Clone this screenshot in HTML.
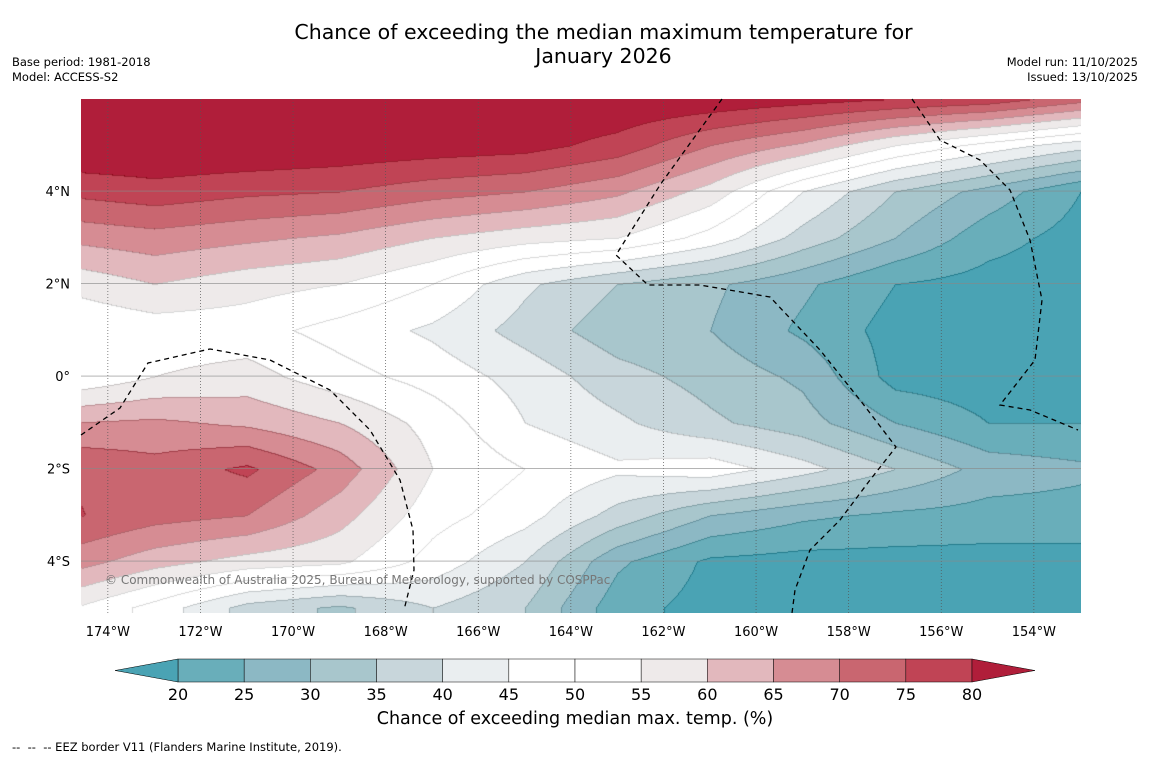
<!DOCTYPE html>
<html><head><meta charset="utf-8">
<style>
body{margin:0;background:#fff;font-family:"DejaVu Sans",sans-serif;}
#wrap{position:relative;width:1150px;height:758px;overflow:hidden;background:#fff}
.t{position:absolute;white-space:nowrap;color:#000}
</style></head><body>
<div id="wrap">
<div class="t" style="left:0;width:1207px;text-align:center;top:20px;font-size:20.5px;line-height:24px">Chance of exceeding the median maximum temperature for<br>January 2026</div>
<div class="t" style="left:12px;top:55px;font-size:11.5px;line-height:15px">Base period: 1981-2018<br>Model: ACCESS-S2</div>
<div class="t" style="right:12px;top:55px;font-size:11.5px;line-height:15px;text-align:right">Model run: 11/10/2025<br>Issued: 13/10/2025</div>
<canvas id="map" width="1000" height="514" style="position:absolute;left:81px;top:99px"></canvas>
<svg id="ov" width="1150" height="758" style="position:absolute;left:0;top:0"></svg>
<div class="t" style="left:105px;top:573px;font-size:12px;color:#777">© Commonwealth of Australia 2025, Bureau of Meteorology, supported by COSPPac</div>
<div class="t" style="left:0;width:1150px;text-align:center;top:709px;font-size:17.5px">Chance of exceeding median max. temp. (%)</div>
<div class="t" style="left:12px;top:740px;font-size:11.5px">-- &nbsp;-- &nbsp;-- EEZ border V11 (Flanders Marine Institute, 2019).</div>
</div>
<script>
const lons=[-175,-173,-171,-169,-167,-165,-163,-161,-159,-157,-155,-153];
const lats=[6,5,4,3,2,1,0,-1,-2,-3,-4,-5];
const grid=[
[85,85,85,85,85,85,85,84,82,80,78,72],
[85,85,85,84,83,82,78,70,64,55,48,42],
[76,78,76,75,72,70,66,58,45,35,28,20],
[66,68,66,64,60,57,55,48,38,30,22,18],
[56,60,57,55,50,41,35,31,26,20,18,17],
[50,52,52,48,44,38,32,30,24,18,17,17],
[50,55,57,52,48,43,37,33,29,18,17,18],
[65,66,64,60,53,45,41,36,32,25,20,20],
[75,72,76,68,55,50,46,48,42,35,28,26],
[76,72,70,62,52,47,38,30,26,24,23,23],
[68,62,58,56,48,40,26,19,18,18,18,18],
[56,48,38,34,40,35,22,18,18,18,18,18]];
const levels=[20,25,30,35,40,45,50,55,60,65,70,75,80];
const colors=["#4aa3b4","#69aeba","#8cb8c4","#a8c6cc","#c8d6db","#eaeef0","#ffffff","#ffffff","#eeeaea","#e2b8bd","#d68c93","#c96670","#c04455","#b01e3a"];
const xTicks=[-174,-172,-170,-168,-166,-164,-162,-160,-158,-156,-154];
const yTicks=[4,2,0,-2,-4];
const X0=81,Y0=99,W=1000,H=514,LON0=-174.58,LAT0=5.99,PX=46.3,PY=46.25;
const xs=lon=>X0+(lon-LON0)*PX, ys=lat=>Y0+(LAT0-lat)*PY;
function band(v){let i=0;while(i<levels.length&&v>=levels[i])i++;return i;}
function hex(c){return [parseInt(c.substr(1,2),16),parseInt(c.substr(3,2),16),parseInt(c.substr(5,2),16)];}
const rgb=colors.map(hex);
const cv=document.getElementById('map'),ctx=cv.getContext('2d'),img=ctx.createImageData(W,H);
const gx0=xs(lons[0]),gdx=xs(lons[1])-xs(lons[0]),gy0=ys(lats[0]),gdy=ys(lats[1])-ys(lats[0]);
const vals=new Float32Array(W*H);
for(let py=0;py<H;py++){for(let px=0;px<W;px++){
 let fx=(X0+px-gx0)/gdx,fy=(Y0+py-gy0)/gdy;
 fx=Math.max(0,Math.min(lons.length-1.001,fx));fy=Math.max(0,Math.min(lats.length-1.001,fy));
 const i=Math.floor(fx),j=Math.floor(fy),a=fx-i,b=fy-j;
 const v=grid[j][i]*(1-a)*(1-b)+grid[j][i+1]*a*(1-b)+grid[j+1][i]*(1-a)*b+grid[j+1][i+1]*a*b;
 vals[py*W+px]=v;
 const c=rgb[band(v)],k=(py*W+px)*4;img.data[k]=c[0];img.data[k+1]=c[1];img.data[k+2]=c[2];img.data[k+3]=255;}}
for(let py=1;py<H;py++)for(let px=1;px<W;px++){const k=py*W+px;
 if(band(vals[k])!==band(vals[k-1])||band(vals[k])!==band(vals[k-W])){const q=k*4;img.data[q]=Math.max(0,img.data[q]-40);img.data[q+1]=Math.max(0,img.data[q+1]-40);img.data[q+2]=Math.max(0,img.data[q+2]-40);}}
ctx.putImageData(img,0,0);
const NS='http://www.w3.org/2000/svg',ov=document.getElementById('ov');
function mk(tag,at,txt){const e=document.createElementNS(NS,tag);for(const k in at)e.setAttribute(k,at[k]);if(txt!==undefined)e.textContent=txt;ov.appendChild(e);return e;}
xTicks.forEach(l=>{const x=xs(l);
 const g=mk('line',{x1:x,x2:x,y1:Y0,y2:Y0+H,stroke:'#555','stroke-width':0.7,'stroke-dasharray':'1,2'});
 
 const t=mk('text',{x:x,y:636,'text-anchor':'middle','font-size':13,'font-family':'DejaVu Sans'},Math.abs(l)+'°W');
 });
yTicks.forEach(l=>{const y=ys(l);
 const g=mk('line',{x1:X0,x2:X0+W,y1:y,y2:y,stroke:'#888','stroke-width':0.7});
 
 const t=mk('text',{x:70,y:y+5,'text-anchor':'end','font-size':13,'font-family':'DejaVu Sans'},l===0?'0°':Math.abs(l)+'°'+(l>0?'N':'S'));
 });
[["M81,435 L120,408 L148,363 L210,349 L270,360 L330,390 L370,430 L400,480 L413,530 L414,570 L404,610"],
 ["M722,99 L660,185 L616,255 L648,285 L700,285 L770,297 L820,350 L860,400 L896,447 L870,480 L840,520 L810,550 L795,590 L792,613"],
 ["M912,99 L940,140 L980,160 L1010,190 L1030,240 L1042,300 L1035,360 L1000,405 L1030,410 L1078,430"]].forEach(d=>{
 const p=mk('path',{d:d[0],fill:'none',stroke:'#000','stroke-width':1.3,'stroke-dasharray':'5,4'});
 });
const cbx=v=>178+(v-20)*(794/60);
for(let i=0;i<levels.length-1;i++){
 const r=mk('rect',{x:cbx(levels[i]),y:659,width:cbx(levels[i+1])-cbx(levels[i]),height:23,fill:colors[i+1],stroke:'#000','stroke-width':0.5});
 }
const tl=mk('polygon',{points:`115,670.5 ${cbx(20)},659 ${cbx(20)},682`,fill:colors[0],stroke:'#000','stroke-width':0.5});

const tr=mk('polygon',{points:`1035,670.5 ${cbx(80)},659 ${cbx(80)},682`,fill:colors[13],stroke:'#000','stroke-width':0.5});

levels.forEach(v=>{const t=mk('text',{x:cbx(v),y:700,'text-anchor':'middle','font-size':16,'font-family':'DejaVu Sans'},v);
 });
</script>
</body></html>
